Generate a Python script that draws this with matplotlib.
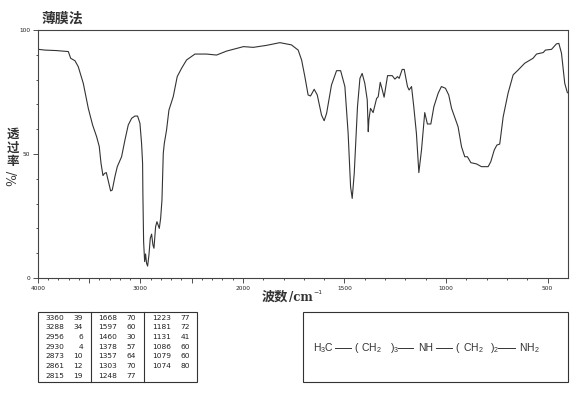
import numpy as np
import matplotlib
matplotlib.use("Agg")
import matplotlib.pyplot as plt
from matplotlib.lines import Line2D
from matplotlib.patches import Rectangle

"""IR spectrum, thin film, with peak table and structure box."""

plt.rcParams['font.family'] = ['Noto Sans CJK SC', 'DejaVu Sans']
plt.rcParams['mathtext.default'] = 'regular'

W, H = 570, 394

# spectrum
wavenumber = [
    3997, 3932, 3818, 3704, 3681, 3639, 3607, 3558, 3509, 3467, 3428, 3402, 3385, 3366, 3350, 3333,
    3320, 3291, 3275, 3249, 3226, 3184, 3151, 3119, 3086, 3054, 3028, 3005, 2989, 2979, 2976, 2969,
    2959, 2950, 2940, 2930, 2917, 2904, 2891, 2878, 2868, 2852, 2839, 2816, 2803, 2790, 2784, 2777,
    2767, 2745, 2722, 2680, 2641, 2598, 2550, 2468, 2355, 2257, 2159, 1997, 1949, 1884, 1818, 1793,
    1761, 1728, 1711, 1695, 1679, 1667, 1649, 1634, 1613, 1600, 1588, 1564, 1539, 1519, 1498, 1482,
    1470, 1462, 1452, 1436, 1424, 1413, 1400, 1388, 1383, 1380, 1372, 1359, 1342, 1334, 1324, 1316,
    1305, 1288, 1265, 1252, 1239, 1231, 1216, 1206, 1190, 1182, 1170, 1159, 1146, 1134, 1121, 1105,
    1092, 1075, 1060, 1039, 1023, 1003, 987, 973, 941, 924, 908, 895, 878, 850, 826, 793,
    780, 763, 750, 736, 719, 695, 670, 645, 613, 572, 555, 522, 511, 481, 457, 445,
    432, 416, 403,
]
transmittance = [
    92.2, 91.9, 91.7, 91.3, 88.6, 87.6, 85.2, 78.5, 68.4, 61.7, 57.0, 53.0, 46.3, 41.3, 42.2, 42.5,
    40.2, 35.1, 35.5, 40.9, 44.9, 48.9, 55.7, 61.7, 64.4, 65.3, 65.3, 62.4, 54.3, 46.2, 33.5, 14.6,
    6.6, 9.7, 5.9, 4.8, 9.3, 16.0, 17.7, 13.3, 12.0, 20.7, 22.7, 20.0, 24.0, 31.4, 39.5, 50.3,
    54.3, 59.7, 67.7, 73.1, 81.2, 84.6, 87.9, 90.3, 90.3, 89.9, 91.5, 93.3, 93.0, 93.8, 94.9, 94.5,
    94.0, 91.9, 87.9, 81.2, 73.8, 73.4, 76.1, 73.8, 65.7, 63.4, 66.4, 77.8, 83.6, 83.6, 77.2, 58.3,
    36.8, 32.1, 42.2, 69.1, 80.5, 82.5, 78.5, 71.8, 59.0, 63.7, 68.4, 66.7, 72.4, 73.1, 78.9, 76.5,
    72.9, 81.6, 81.6, 80.2, 81.2, 80.5, 84.1, 84.1, 77.2, 75.8, 77.2, 69.1, 58.3, 42.5, 51.6, 66.7,
    62.1, 62.1, 69.1, 74.5, 77.2, 76.5, 73.8, 68.4, 61.0, 52.9, 48.9, 48.9, 46.5, 46.0, 44.9, 44.9,
    46.9, 51.6, 53.6, 54.0, 65.0, 74.5, 81.9, 83.9, 86.6, 88.6, 90.3, 90.9, 91.9, 92.2, 94.4, 94.6,
    90.6, 78.5, 74.7,
]

x_major = [4000, 3500, 3000, 2500, 2000, 1500, 1000, 500]
x_labels = ["4000", "", "3000", "", "2000", "1500", "1000", "500"]
y_major = [0, 50, 100]

table_col1 = [("3360", "39"), ("3288", "34"), ("2956", "6"), ("2930", "4"), ("2873", "10"), ("2861", "12"), ("2815", "19")]
table_col2 = [("1668", "70"), ("1597", "60"), ("1460", "30"), ("1378", "57"), ("1357", "64"), ("1303", "70"), ("1248", "77")]
table_col3 = [("1223", "77"), ("1181", "72"), ("1131", "41"), ("1086", "60"), ("1079", "60"), ("1074", "80")]

INK = "#333333"


def px(x, y):
    return x / W, 1 - y / H


def forward(w):
    # chart scale doubles below 2000 cm-1
    return np.interp(w, [400, 2000, 4000], [0, 325.3, 530.3])


def inverse(v):
    return np.interp(v, [0, 325.3, 530.3], [400, 2000, 4000])


fig = plt.figure(figsize=(W / 100, H / 100), dpi=100)
ax = fig.add_axes([38 / W, 1 - 278 / H, 530 / W, 248 / H])
ax.set_xscale('function', functions=(forward, inverse))
ax.plot(wavenumber, transmittance, color=INK, lw=0.8)

ax.set_xticks(x_major)
ax.set_xticklabels(x_labels, family='DejaVu Sans')
ax.set_xticks(np.arange(500, 4000, 100), minor=True)
ax.set_yticks(y_major)
ax.set_yticklabels([str(v) for v in y_major], family='DejaVu Sans')
ax.set_yticks(np.arange(0, 100, 10), minor=True)
ax.set_xlim(4000, 400)
ax.set_ylim(0, 100)
ax.tick_params(axis='both', which='major', length=3.5, width=0.6, labelsize=4.2, color=INK, labelcolor="#222222", pad=2)
ax.tick_params(axis='both', which='minor', length=1.5, width=0.6, color=INK)
for s in ax.spines.values():
    s.set_linewidth(0.8)
    s.set_color("#444444")

fig.text(*px(42, 19), "薄膜法", fontsize=10, va='center', ha='left', color=INK, fontweight='bold')
fig.text(*px(13, 134), "透", fontsize=9, va='center', ha='center', color=INK, fontweight='bold')
fig.text(*px(13, 148), "过", fontsize=9, va='center', ha='center', color=INK, fontweight='bold')
fig.text(*px(13, 162), "率", fontsize=9, va='center', ha='center', color=INK, fontweight='bold')
fig.text(*px(13, 178), "%/", fontsize=9, va='center', ha='center', rotation=90, color=INK, family='DejaVu Serif')
fig.text(*px(262, 297), "波数", fontsize=9.5, va='center', ha='left', color=INK, fontweight='bold')
fig.text(*px(289, 297), "/cm", fontsize=8.5, va='center', ha='left', color=INK, family='DejaVu Serif', fontweight='bold')
fig.text(*px(313, 293), "−1", fontsize=4.5, va='center', ha='left', color=INK, family='DejaVu Sans')

# peak table
fig.add_artist(Rectangle(px(38, 382), 159 / W, 70 / H, transform=fig.transFigure, fill=False, ec=INK, lw=0.8))
for xl in (91.3, 144.3):
    fig.add_artist(Line2D([xl / W, xl / W], [1 - 312 / H, 1 - 382 / H], color=INK, lw=0.8))
for col, x0 in zip((table_col1, table_col2, table_col3), (45, 98, 152)):
    for i, (wn, t) in enumerate(col):
        y = 317.7 + i * 9.7
        fig.text(*px(x0, y), wn, fontsize=5.4, va='center', ha='left', color="#222222", family='DejaVu Sans')
        fig.text(*px(x0 + 38, y), t, fontsize=5.4, va='center', ha='right', color="#222222", family='DejaVu Sans')

# structure box
fig.add_artist(Rectangle(px(303, 382), 265 / W, 70 / H, transform=fig.transFigure, fill=False, ec=INK, lw=0.8))
chain = [(313, "H$_3$C"), (354, "("), (361, "CH$_2$"), (390, ")$_3$"), (418, "NH"),
         (455, "("), (463, "CH$_2$"), (490, ")$_2$"), (519, "NH$_2$")]
for x0, s in chain:
    fig.text(*px(x0, 348), s, fontsize=7.5, va='center', ha='left', color=INK, family='Liberation Sans')
for x0, x1 in ((335, 351), (398, 413), (436, 452), (498, 515)):
    fig.add_artist(Line2D([x0 / W, x1 / W], [1 - 348 / H, 1 - 348 / H], color=INK, lw=0.7))

fig.savefig("out.png", dpi=100)
